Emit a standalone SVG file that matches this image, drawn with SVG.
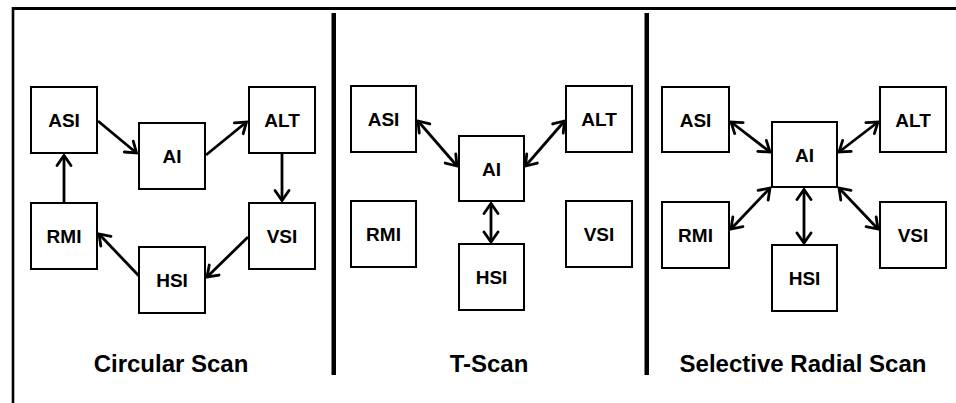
<svg xmlns="http://www.w3.org/2000/svg" width="956" height="403" viewBox="0 0 956 403">
  <style>
    .box { fill: #ffffff; stroke: #000000; stroke-width: 2; }
    .lbl { font-family: "Liberation Sans", Arial, sans-serif; font-weight: bold; font-size: 19px; text-anchor: middle; fill: #000000; }
    .title { font-family: "Liberation Sans", Arial, sans-serif; font-weight: bold; font-size: 24px; text-anchor: middle; fill: #000000; }
    .edge { stroke: #000000; stroke-width: 2.8; fill: none; marker-end: url(#head); }
    .both { marker-start: url(#head); }
    .frame { stroke: #000000; fill: none; }
  </style>
  <defs>
    <marker id="head" markerUnits="userSpaceOnUse" viewBox="-13 -9 15 18" refX="0" refY="0" markerWidth="15" markerHeight="18" orient="auto-start-reverse">
      <path d="M -10,-7 L 0,0 L -10,7" fill="none" stroke="#000000" stroke-width="2.8" stroke-linecap="round" stroke-linejoin="miter"/>
    </marker>
  </defs>

  <rect x="0" y="0" width="956" height="403" fill="#ffffff"/>

  <!-- outer frame and panel dividers -->
  <g id="frame">
    <line class="frame" x1="12" y1="8.5" x2="956" y2="8.5" stroke-width="3"/>
    <line class="frame" x1="13" y1="7" x2="13" y2="403" stroke-width="2.6"/>
    <rect x="331.5" y="13" width="4.5" height="362" fill="#000000"/>
    <rect x="644.5" y="13" width="4.5" height="362" fill="#000000"/>
  </g>

  <!-- Circular Scan -->
  <g id="circular">
    <g id="c-asi"><rect class="box" x="31" y="87" width="66" height="66"/><text class="lbl" x="64" y="127">ASI</text></g>
    <g id="c-ai"><rect class="box" x="139" y="123" width="66" height="66"/><text class="lbl" x="172" y="163">AI</text></g>
    <g id="c-alt"><rect class="box" x="249" y="87" width="66" height="66"/><text class="lbl" x="282" y="127">ALT</text></g>
    <g id="c-rmi"><rect class="box" x="31" y="203" width="66" height="66"/><text class="lbl" x="64" y="243">RMI</text></g>
    <g id="c-vsi"><rect class="box" x="249" y="203" width="66" height="66"/><text class="lbl" x="282" y="243">VSI</text></g>
    <g id="c-hsi"><rect class="box" x="139" y="247" width="66" height="66"/><text class="lbl" x="172" y="287">HSI</text></g>
    <text class="title" x="171" y="372">Circular Scan</text>
  </g>

  <!-- T-Scan -->
  <g id="tscan">
    <g id="t-asi"><rect class="box" x="351" y="86" width="65" height="66"/><text class="lbl" x="383.5" y="126">ASI</text></g>
    <g id="t-ai"><rect class="box" x="459" y="136" width="65" height="65"/><text class="lbl" x="491.5" y="175.5">AI</text></g>
    <g id="t-alt"><rect class="box" x="566" y="86" width="66" height="66"/><text class="lbl" x="599" y="126">ALT</text></g>
    <g id="t-rmi"><rect class="box" x="351" y="201" width="65" height="66"/><text class="lbl" x="383.5" y="241">RMI</text></g>
    <g id="t-vsi"><rect class="box" x="566" y="201" width="66" height="66"/><text class="lbl" x="599" y="241">VSI</text></g>
    <g id="t-hsi"><rect class="box" x="459" y="244" width="65" height="66"/><text class="lbl" x="491.5" y="284">HSI</text></g>
    <text class="title" x="489" y="372">T-Scan</text>
  </g>

  <!-- Selective Radial Scan -->
  <g id="radial">
    <g id="r-asi"><rect class="box" x="662" y="87" width="67" height="65"/><text class="lbl" x="695.5" y="126.5">ASI</text></g>
    <g id="r-ai"><rect class="box" x="772" y="122" width="65" height="65"/><text class="lbl" x="804.5" y="161.5">AI</text></g>
    <g id="r-alt"><rect class="box" x="880" y="87" width="66" height="65"/><text class="lbl" x="913" y="126.5">ALT</text></g>
    <g id="r-rmi"><rect class="box" x="662" y="202" width="67" height="66"/><text class="lbl" x="695.5" y="242">RMI</text></g>
    <g id="r-vsi"><rect class="box" x="880" y="202" width="66" height="66"/><text class="lbl" x="913" y="242">VSI</text></g>
    <g id="r-hsi"><rect class="box" x="772" y="245" width="65" height="66"/><text class="lbl" x="804.5" y="285">HSI</text></g>
    <text class="title" x="803" y="372">Selective Radial Scan</text>
  </g>

  <!-- connectors -->
  <g id="connectors">
    <!-- circular scan loop -->
    <line class="edge" x1="98" y1="121" x2="136.5" y2="153"/>
    <line class="edge" x1="206" y1="155" x2="246.5" y2="122"/>
    <line class="edge" x1="282" y1="154" x2="282" y2="200.5"/>
    <line class="edge" x1="248" y1="237" x2="207" y2="277"/>
    <line class="edge" x1="139" y1="276" x2="99" y2="234"/>
    <line class="edge" x1="64" y1="202" x2="64" y2="155.5"/>

    <!-- T-scan -->
    <line class="edge both" x1="418" y1="121" x2="457" y2="166"/>
    <line class="edge both" x1="525.5" y1="166" x2="564.5" y2="121"/>
    <line class="edge both" x1="491" y1="203.5" x2="491" y2="242"/>

    <!-- selective radial scan -->
    <line class="edge both" x1="731" y1="122" x2="770" y2="152"/>
    <line class="edge both" x1="839" y1="152" x2="878" y2="122"/>
    <line class="edge both" x1="770" y1="188" x2="731" y2="229"/>
    <line class="edge both" x1="804" y1="189.5" x2="804" y2="243"/>
    <line class="edge both" x1="839" y1="188" x2="878" y2="229"/>
  </g>
</svg>
